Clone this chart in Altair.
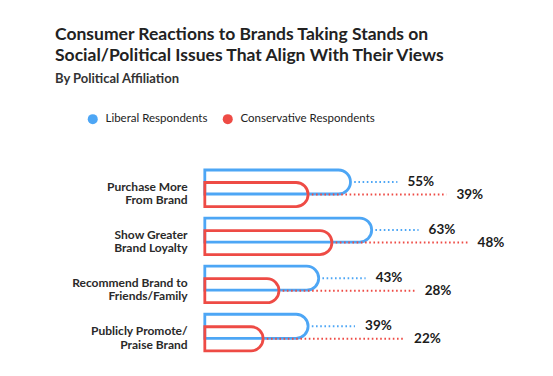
import altair as alt
import pandas as pd

categories = ["Purchase More\nFrom Brand", "Show Greater\nBrand Loyalty",
              "Recommend Brand to\nFriends/Family", "Publicly Promote/\nPraise  Brand"]
liberal = [55, 63, 43, 39]
conservative = [39, 48, 28, 22]
series = ["Liberal Respondents", "Conservative Respondents"]
colors = ["#4DA6F5", "#EE4B45"]

FONT = "Lato"

rows = []
for i, cat in enumerate(categories):
    lib_lab = liberal[i] + 21.5
    con_lab = lib_lab + 18.5
    for s, v, off, lab in [(series[0], liberal[i], 0.0, lib_lab),
                           (series[1], conservative[i], 0.26, con_lab)]:
        rows.append(dict(cat=cat, series=s, value=v, zero=0, pos=i + off,
                         y0=i + off - 0.25, y1=i + off + 0.25,
                         line0=v + 1.4, line1=lab - 3.8, labx=lab, text=f"{v}%"))
df = pd.DataFrame(rows)
cat_df = pd.DataFrame({"cat": categories, "pos": [i + 0.1 for i in range(len(categories))],
                       "x": [-6.5] * len(categories)})

xscale = alt.Scale(domain=[-66, 119], nice=False, zero=False)
yscale = alt.Scale(domain=[-1.705, 3.909], reverse=True, nice=False, zero=False)

legend = alt.Legend(title=None, orient="none", legendX=57, legendY=13,
                    direction="horizontal", symbolType="circle",
                    symbolSize=100, symbolStrokeWidth=0, symbolOpacity=1,
                    labelFont=FONT, labelFontSize=11.5, labelColor="#222",
                    labelOffset=7, columnPadding=14)
stroke_enc = alt.Stroke("series:N", scale=alt.Scale(domain=series, range=colors), legend=legend)

base = alt.Chart(df)

bars = base.mark_bar(filled=False, strokeWidth=2.8, cornerRadiusTopRight=12,
                     cornerRadiusBottomRight=12).encode(
    x=alt.X("zero:Q", scale=xscale, axis=None),
    x2="value:Q",
    y=alt.Y("y0:Q", scale=yscale, axis=None),
    y2="y1:Q",
    stroke=stroke_enc,
)

dots = base.mark_rule(strokeDash=[1.6, 2.6], strokeWidth=2).encode(
    x=alt.X("line0:Q", scale=xscale, axis=None),
    x2="line1:Q",
    y=alt.Y("pos:Q", scale=yscale, axis=None),
    stroke=stroke_enc,
)

vals = base.mark_text(align="left", baseline="middle", fontSize=13.5, fontWeight="bold",
                      font=FONT, color="#1c1c1c").encode(
    x=alt.X("labx:Q", scale=xscale, axis=None),
    y=alt.Y("pos:Q", scale=yscale, axis=None),
    text="text:N",
)

cats = alt.Chart(cat_df).mark_text(align="right", baseline="middle", fontSize=12,
                                   fontWeight="bold", font=FONT, color="#2a2a2a",
                                   lineBreak="\n", lineHeight=13.5).encode(
    x=alt.X("x:Q", scale=xscale, axis=None),
    y=alt.Y("pos:Q", scale=yscale, axis=None),
    text="cat:N",
)

legend_layer = base.mark_circle(size=1, opacity=0).encode(
    x=alt.X("zero:Q", scale=xscale, axis=None),
    y=alt.Y("pos:Q", scale=yscale, axis=None),
    color=alt.Color("series:N", scale=alt.Scale(domain=series, range=colors), legend=legend),
)

chart = alt.layer(bars, dots, vals, cats, legend_layer).properties(
    width=490, height=270,
    padding={"left": 30, "top": 100, "right": 33, "bottom": 6},
    autosize=alt.AutoSizeParams(type="none"),
    background="white",
    title=alt.Title(
        text=["Consumer Reactions to Brands Taking Stands on",
              "Social/Political Issues That Align With Their Views"],
        subtitle="By Political Affiliation",
        anchor="start", font=FONT, fontSize=17.5, fontWeight="bold", color="#222",
        lineHeight=21, subtitleFont=FONT, subtitleFontSize=13, subtitleColor="#333",
        subtitleFontWeight="bold", subtitlePadding=9, dx=25, offset=14,
    ),
).configure_view(stroke=None)

chart.save("out.html", embed_options={"renderer": "svg", "actions": False})
